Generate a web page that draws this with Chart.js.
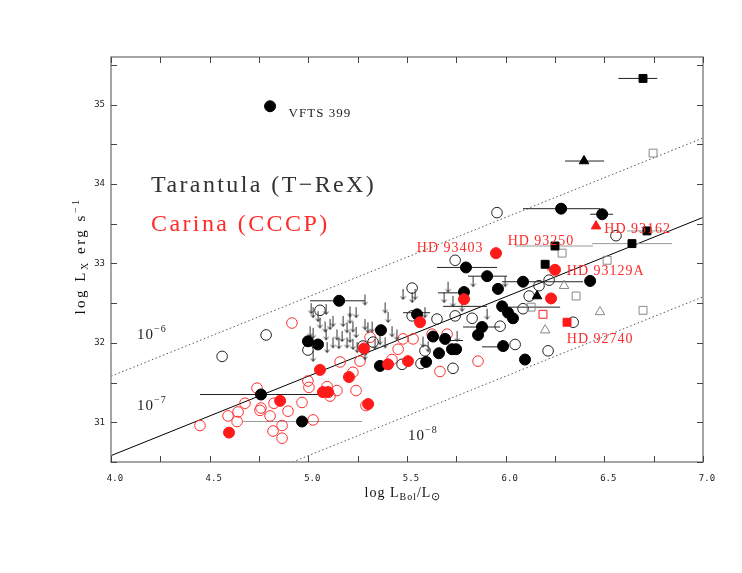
<!DOCTYPE html>
<html>
<head>
<meta charset="utf-8">
<script src="https://cdn.jsdelivr.net/npm/chart.js@4.4.0/dist/chart.umd.min.js"></script>
<style>
  html, body { margin: 0; padding: 0; background: #fff; }
  canvas { display: block; }
</style>
</head>
<body>
<canvas id="graf" width="742" height="573"></canvas>
<script>
// Osi
const xTicks = ['4.0', '4.5', '5.0', '5.5', '6.0', '6.5', '7.0']
const yTicks = ['31', '32', '33', '34', '35']

// Tarantula (T-ReX) - plné kruhy [log Lbol, log Lx]
const tarPlne = [
    [4.806, 34.98], [6.281, 33.69], [6.489, 33.62], [5.156, 32.53], [4.998, 32.02], [5.049, 31.98],
    [5.368, 32.16], [5.551, 32.36], [5.799, 32.95], [5.906, 32.84], [5.961, 32.68], [6.088, 32.77],
    [6.428, 32.78], [5.789, 32.64], [5.880, 32.20], [5.860, 32.10], [5.632, 32.08], [5.693, 32.05],
    [5.728, 31.92], [5.749, 31.92], [5.662, 31.87], [5.597, 31.76], [5.363, 31.71], [5.982, 32.46],
    [6.012, 32.38], [6.037, 32.31], [5.987, 31.96], [6.098, 31.79], [4.968, 31.01], [4.760, 31.35]
]
// Tarantula - prázdne kruhy
const tarPrazdne = [
    [5.956, 33.64], [5.744, 33.04], [4.786, 32.10], [4.563, 31.83], [4.998, 31.91], [5.059, 32.41],
    [5.328, 32.01], [5.526, 32.69], [5.526, 32.34], [5.652, 32.30], [5.744, 32.34], [5.830, 32.31],
    [5.972, 32.21], [5.277, 31.96], [5.571, 31.74], [5.733, 31.68], [5.475, 31.73], [5.591, 31.90],
    [6.169, 32.72], [6.119, 32.59], [6.220, 32.79], [6.088, 32.43], [6.342, 32.26], [6.048, 31.98],
    [6.215, 31.90], [6.559, 33.35]
]
// Tarantula - horné limity (šípky)
const tarLimity = [
    [5.014, 32.50], [5.024, 32.45], [5.090, 32.49], [5.211, 32.46], [5.242, 32.45], [5.287, 32.61],
    [5.211, 32.38], [5.176, 32.34], [5.125, 32.34], [5.059, 32.32], [5.085, 32.27], [5.110, 32.30],
    [5.196, 32.26], [5.226, 32.27], [5.009, 32.21], [5.024, 32.19], [5.090, 32.17], [5.145, 32.17],
    [5.171, 32.15], [5.211, 32.14], [5.242, 32.20], [5.287, 32.30], [5.302, 32.26], [5.125, 32.07],
    [5.155, 32.06], [5.196, 32.07], [5.226, 32.05], [5.247, 32.01], [5.095, 32.01], [5.024, 31.90],
    [5.292, 31.98], [5.708, 32.77], [5.480, 32.68], [5.526, 32.64], [5.688, 32.64], [5.733, 32.59],
    [5.389, 32.51], [5.404, 32.39], [5.591, 32.45], [5.323, 32.27], [5.424, 32.21], [5.449, 32.17],
    [5.363, 32.11], [5.389, 32.07], [5.338, 32.05], [5.581, 32.08], [5.607, 32.02], [5.754, 32.15],
    [5.906, 32.43], [5.835, 32.84], [5.997, 32.84], [5.541, 32.68], [5.779, 32.53], [5.287, 31.92],
    [5.049, 32.40]
]
// Tarantula - štvorce a trojuholníky
const tarStvorce = [[6.696, 35.33], [6.716, 33.41], [6.640, 33.25], [6.250, 33.22], [6.200, 32.99]]
const tarStvorcePrazdne = [[6.747, 34.39], [6.286, 33.13], [6.514, 33.04], [6.357, 32.59], [6.696, 32.41], [6.129, 32.45]]
const tarTroj = [[6.397, 34.29], [6.159, 32.59]]
const tarTrojPrazdne = [[6.296, 32.72], [6.478, 32.39], [6.200, 32.16]]

// Carina (CCCP)
const carPlne = [
    [5.951, 33.13], [5.789, 32.55], [6.250, 32.92], [6.230, 32.56], [5.566, 32.26], [5.282, 31.93],
    [5.059, 31.66], [5.206, 31.57], [5.404, 31.73], [5.505, 31.77], [5.074, 31.38], [5.100, 31.38],
    [5.303, 31.23], [4.857, 31.27], [4.598, 30.87]
]
const carPrazdne = [
    [4.451, 30.96], [4.593, 31.08], [4.644, 31.13], [4.639, 31.01], [4.679, 31.24], [4.740, 31.43],
    [4.755, 31.15], [4.806, 31.08], [4.821, 30.89], [4.867, 30.96], [4.867, 30.80], [4.826, 31.24],
    [4.897, 31.14], [4.968, 31.25], [5.003, 31.44], [4.917, 32.25], [5.024, 31.03], [4.760, 31.18],
    [4.998, 31.52], [5.095, 31.45], [5.145, 31.40], [5.110, 31.33], [5.242, 31.40], [5.292, 31.21],
    [5.161, 31.76], [5.226, 31.63], [5.262, 31.77], [5.313, 32.07], [5.455, 31.92], [5.480, 32.05],
    [5.531, 32.05], [5.627, 32.11], [5.703, 32.11], [5.424, 31.79], [5.667, 31.64], [5.860, 31.77]
]
const carStvorec = [[6.311, 32.26]]
const carStvorecPrazdny = [[6.189, 32.36]]
const carTroj = [[6.458, 33.47]]

// Chybové úsečky [log Lx, od, do]
const chybyCierne = [
    [35.33, 6.571, 6.768], [34.29, 6.301, 6.499], [33.69, 6.088, 6.478], [33.62, 6.428, 6.544],
    [32.95, 5.652, 5.956], [32.84, 5.809, 6.007], [32.77, 5.982, 6.392], [32.63, 5.657, 5.804],
    [32.53, 5.009, 5.287], [32.46, 5.683, 5.906], [32.45, 5.982, 6.276], [32.38, 5.480, 5.617],
    [32.20, 5.784, 5.972], [32.03, 5.693, 5.784], [31.95, 5.880, 5.972], [31.35, 4.451, 5.110]
]
const chybySive = [
    [33.41, 6.615, 6.818], [33.25, 6.438, 6.843], [33.22, 6.048, 6.443], [31.01, 4.669, 5.272]
]
const chybyCervene = [[32.92, 6.210, 6.250]]

// Pomery Lx/Lbol
const pomer7 = [[4.0, 30.58], [7.0, 33.58]]
const pomer6 = [[4.0, 31.58], [7.0, 34.58]]
const pomer8 = [[4.92, 30.5], [7.0, 32.58]]

// Popisky
const popisky = [
    { text: 'VFTS 399', x: 4.90, y: 34.84, farba: '#222', velkost: 13 },
    { text: 'HD 93403', x: 5.55, y: 33.14, farba: '#ff2a2a', velkost: 14 },
    { text: 'HD 93250', x: 6.01, y: 33.23, farba: '#ff2a2a', velkost: 14 },
    { text: 'HD 93162', x: 6.50, y: 33.39, farba: '#ff2a2a', velkost: 14 },
    { text: 'HD 93129A', x: 6.31, y: 32.86, farba: '#ff2a2a', velkost: 14 },
    { text: 'HD 92740', x: 6.31, y: 32.00, farba: '#ff2a2a', velkost: 14 }
]

const body = arr => arr.map(([x, y]) => ({ x, y }))
const usecky = arr => arr.flatMap(([y, a, b]) => [{ x: a, y }, { x: b, y }, { x: b, y: null }])

function sipka() {
    const c = document.createElement('canvas')
    c.width = 9
    c.height = 24
    const g = c.getContext('2d')
    g.strokeStyle = '#333'
    g.lineWidth = 1
    g.beginPath()
    g.moveTo(4.5, 12)
    g.lineTo(4.5, 22.5)
    g.moveTo(2.2, 19.5)
    g.lineTo(4.5, 22.5)
    g.lineTo(6.8, 19.5)
    g.stroke()
    return c
}

function bodky(data, styl, vypln, okraj, r, poradie) {
    return {
        data: body(data), pointStyle: styl, pointRadius: r, pointHoverRadius: r,
        backgroundColor: vypln, borderColor: okraj, pointBorderWidth: 1, borderWidth: 1, order: poradie
    }
}

function ciara(data, farba, dash) {
    return {
        data: body(data), showLine: true, pointRadius: 0, borderColor: farba,
        borderWidth: 1, borderDash: dash, order: 20
    }
}

function chyby(data, farba) {
    return {
        data: usecky(data), showLine: true, spanGaps: false, pointRadius: 0,
        borderColor: farba, borderWidth: 1, order: 15
    }
}

// Text s indexmi: segmenty [text, velkost, posun]
function kresliText(ctx, x, y, casti) {
    let px = x
    casti.forEach(([t, v, d]) => {
        ctx.font = `${v}px "Liberation Serif", serif`
        ctx.fillText(t, px, y + d)
        px += ctx.measureText(t).width
    })
    return px - x
}
function sirkaTextu(ctx, casti) {
    let w = 0
    casti.forEach(([t, v]) => {
        ctx.font = `${v}px "Liberation Serif", serif`
        w += ctx.measureText(t).width
    })
    return w
}

const ramPlugin = {
    id: 'ram',
    afterDraw(chart) {
        const { ctx, chartArea: a, scales: { x, y } } = chart
        ctx.save()
        // rám
        ctx.strokeStyle = '#888'
        ctx.lineWidth = 1.5
        ctx.strokeRect(a.left, a.top, a.right - a.left, a.bottom - a.top)

        // tiky dovnútra
        ctx.strokeStyle = '#444'
        ctx.lineWidth = 1
        ctx.beginPath()
        for (let v = 4.0; v <= 7.001; v += 0.25) {
            const p = Math.round(x.getPixelForValue(v)) + 0.5
            ctx.moveTo(p, a.bottom); ctx.lineTo(p, a.bottom - 6)
            ctx.moveTo(p, a.top); ctx.lineTo(p, a.top + 6)
        }
        for (let v = 30.5; v <= 35.6; v += 0.5) {
            const p = Math.round(y.getPixelForValue(v)) + 0.5
            ctx.moveTo(a.left, p); ctx.lineTo(a.left + 6, p)
            ctx.moveTo(a.right, p); ctx.lineTo(a.right - 6, p)
        }
        ctx.stroke()

        // popisky osí
        ctx.fillStyle = '#222'
        ctx.font = '9px "DejaVu Sans Mono", monospace'
        ctx.textBaseline = 'middle'
        ctx.textAlign = 'center'
        xTicks.forEach(t => ctx.fillText(t, x.getPixelForValue(parseFloat(t)) + 4, a.bottom + 17))
        ctx.textAlign = 'right'
        yTicks.forEach(t => ctx.fillText(t, a.left - 6, y.getPixelForValue(parseFloat(t))))

        // názvy osí
        ctx.textAlign = 'left'
        ctx.textBaseline = 'alphabetic'
        ctx.fillStyle = '#111'
        ctx.letterSpacing = '1px'
        const xt = [['log L', 14, 0], ['Bol', 10, 3], ['/L', 14, 0], ['⊙', 11, 3]]
        kresliText(ctx, (a.left + a.right) / 2 - sirkaTextu(ctx, xt) / 2 - 4, a.bottom + 35, xt)
        ctx.letterSpacing = '2.5px'
        const yt = [['log L', 15, 0], ['X', 10, 3], [' erg s', 15, 0], ['−1', 10, -6]]
        ctx.save()
        ctx.translate(a.left - 26, 241)
        ctx.rotate(-Math.PI / 2)
        kresliText(ctx, -(sirkaTextu(ctx, yt) + 30) / 2, 0, yt)
        ctx.restore()

        // pomery
        ctx.letterSpacing = '1px'
        ctx.fillStyle = '#222'
        kresliText(ctx, 137, 339, [['10', 15, 0], ['−6', 10, -7]])
        kresliText(ctx, 137, 410, [['10', 15, 0], ['−7', 10, -7]])
        kresliText(ctx, 408, 440, [['10', 15, 0], ['−8', 10, -7]])

        // legenda
        ctx.letterSpacing = '2.4px'
        ctx.font = '24px "Liberation Serif", serif'
        ctx.fillStyle = '#333'
        ctx.fillText('Tarantula (T−ReX)', 151, 192)
        ctx.fillStyle = '#ff2a2a'
        ctx.fillText('Carina (CCCP)', 151, 231)

        // popisky hviezd
        ctx.letterSpacing = '1px'
        popisky.forEach(p => {
            ctx.font = `${p.velkost}px "Liberation Serif", serif`
            ctx.fillStyle = p.farba
            ctx.fillText(p.text, x.getPixelForValue(p.x), y.getPixelForValue(p.y))
        })
        ctx.restore()
    }
}

const cierna = '#000'
const cervena = '#ff1a1a'
const siva = '#888'

new Chart(document.getElementById('graf').getContext('2d'), {
    type: 'scatter',
    data: {
        datasets: [
            ciara(pomer7, '#000', []),
            ciara(pomer6, '#555', [1.5, 2.5]),
            ciara(pomer8, '#555', [1.5, 2.5]),
            chyby(chybyCierne, '#222'),
            chyby(chybySive, '#999'),
            chyby(chybyCervene, cervena),
            bodky(carPrazdne, 'circle', 'rgba(0,0,0,0)', '#ff3030', 5.3, 8),
            bodky(tarPrazdne, 'circle', 'rgba(0,0,0,0)', '#222', 5.3, 7),
            { data: body(tarLimity), pointStyle: sipka(), pointRadius: 5, order: 6 },
            bodky(tarStvorcePrazdne, 'rect', 'rgba(0,0,0,0)', siva, 5.6, 5),
            bodky(tarTrojPrazdne, 'triangle', 'rgba(0,0,0,0)', siva, 5.5, 5),
            bodky(carStvorecPrazdny, 'rect', 'rgba(0,0,0,0)', cervena, 5.6, 5),
            bodky(tarPlne, 'circle', cierna, cierna, 5.5, 3),
            bodky(carPlne, 'circle', cervena, cervena, 5.5, 2),
            bodky(tarStvorce, 'rect', cierna, cierna, 5.6, 1),
            bodky(tarTroj, 'triangle', cierna, cierna, 5.5, 1),
            bodky(carStvorec, 'rect', cervena, cervena, 5.6, 1),
            bodky(carTroj, 'triangle', cervena, cervena, 5.5, 1)
        ]
    },
    options: {
        responsive: false,
        animation: false,
        layout: { padding: { left: 111, top: 57, right: 39, bottom: 111 } },
        plugins: { legend: { display: false }, tooltip: { enabled: false } },
        scales: {
            x: { type: 'linear', min: 4.0, max: 7.0, display: false },
            y: { type: 'linear', min: 30.5, max: 35.6, display: false }
        }
    },
    plugins: [ramPlugin]
})
</script>
</body>
</html>
